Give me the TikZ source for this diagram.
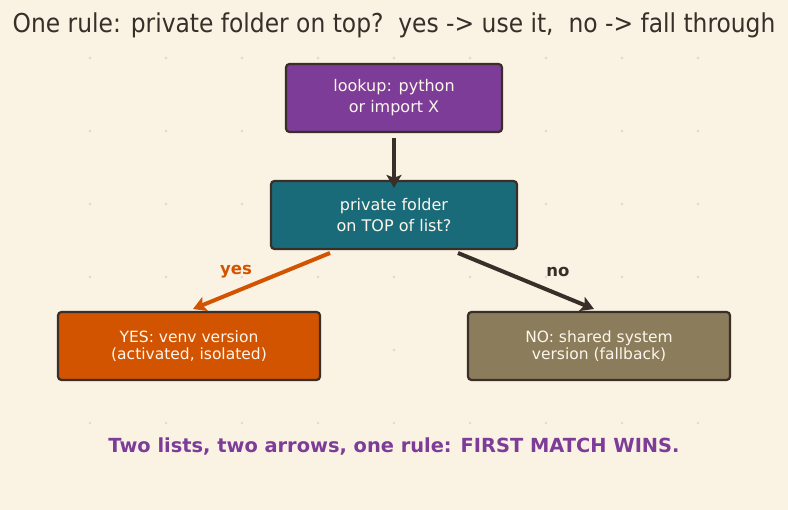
\documentclass[tikz,border=0pt]{standalone}
\usepackage{fontspec}
\setmainfont{DejaVu Sans}
\newfontfamily\condfont{DejaVu Sans Condensed}
\usetikzlibrary{arrows.meta}
\definecolor{bgc}{HTML}{FAF2E3}
\definecolor{dotc}{HTML}{E2D8C2}
\definecolor{inkc}{HTML}{3A2E28}
\definecolor{purp}{HTML}{7D3C98}
\definecolor{teal}{HTML}{1A6B7A}
\definecolor{oran}{HTML}{D35400}
\definecolor{khak}{HTML}{8B7D5B}
\definecolor{boxtext}{HTML}{FDF6EC}
\tikzset{
  box/.style={draw=inkc, line width=2.2pt, rounded corners=3.5pt, text=boxtext, align=center, inner sep=0pt},
  conn/.style={line width=4pt, -{Stealth[length=13pt,width=15pt,inset=3pt]}},
  lbl/.style={font=\fontsize{16.5}{18}\selectfont\bfseries}
}
\begin{document}
\begin{tikzpicture}[x=1pt,y=-1pt]
\fill[bgc] (0,0) rectangle (788,510);
\useasboundingbox (0,0) rectangle (788,510);
\foreach \xx in {90,166,242,318,394,470,546,622,698}
  \foreach \yy in {58,131,204,277,350,423}
    \fill[dotc] (\xx,\yy) circle (1.3);
\node[text=inkc, font=\condfont\fontsize{26}{30}\selectfont] (title) at (394,25) {One rule: private folder on top?\ \ yes -> use it,\ \ no -> fall through};
\node[box, fill=purp, minimum width=216pt, minimum height=68pt, font=\fontsize{16}{21}\selectfont] (look) at (394,98) {lookup: python\\or import X};
\node[box, fill=teal, minimum width=246pt, minimum height=68pt, font=\fontsize{16}{21}\selectfont] (priv) at (394,215) {private folder\\on TOP of list?};
\node[box, fill=oran, minimum width=262pt, minimum height=68pt, font=\fontsize{15.5}{17.5}\selectfont] (yes) at (189,346) {YES: venv version\\(activated, isolated)};
\node[box, fill=khak, minimum width=262pt, minimum height=68pt, font=\fontsize{15.5}{17.5}\selectfont] (no) at (599,346) {NO: shared system\\version (fallback)};
\coordinate (ys) at (330,253);
\coordinate (ns) at (458,253);
\draw[conn, draw=inkc, fill=inkc] (look.south) ++(0,5) -- ([yshift=-8pt]priv.north);
\draw[conn, draw=oran, fill=oran] (ys) -- (193,309) coordinate (ye);
\draw[conn, draw=inkc, fill=inkc] (ns) -- (594,309) coordinate (ne);
\node[lbl, text=oran] (ylab) at (236,272) {yes};
\node[lbl, text=inkc] (nlab) at (558,272) {no};
\node[text=purp, font=\fontsize{19.4}{22}\selectfont\bfseries] (foot) at (394,447) {Two lists, two arrows, one rule: FIRST MATCH WINS.};
\end{tikzpicture}
\end{document}
